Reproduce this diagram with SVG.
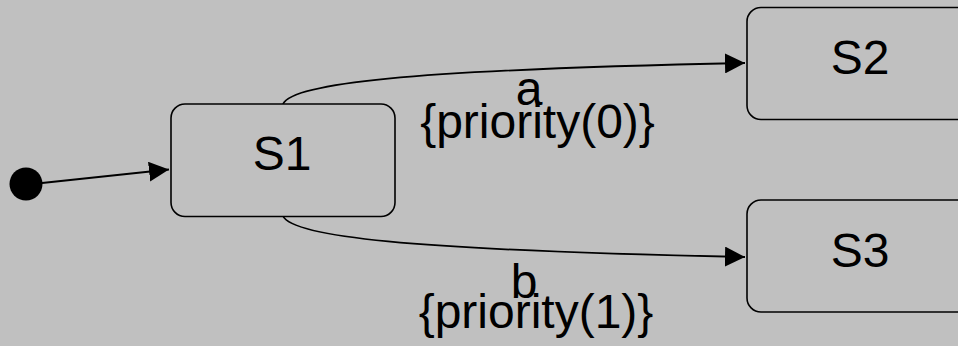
<svg xmlns="http://www.w3.org/2000/svg" width="958" height="346" viewBox="0 0 958 346">
<defs>
<style>
.state{fill:#c0c0c0;stroke:#000;stroke-width:1.6}
.lbl{font-family:"Liberation Sans",Arial,sans-serif;font-size:48px;fill:#000}
.mid{text-anchor:middle}
.edge{fill:none;stroke:#000;stroke-width:1.8}
</style>
<marker id="arr" markerUnits="userSpaceOnUse" markerWidth="22" markerHeight="20" refX="20" refY="10" orient="auto">
<path d="M0,0 L20,10 L0,20 Z" fill="#000"/>
</marker>
</defs>
<rect width="958" height="346" fill="#c0c0c0"/>
<g id="connectors">
<path class="edge" d="M42,183 L169,169.5" marker-end="url(#arr)"/>
<path class="edge" d="M283,104 C292,84 400,70 745,63" marker-end="url(#arr)"/>
<path class="edge" d="M283,216 C292,236 400,250 745,257" marker-end="url(#arr)"/>
<text class="lbl mid" x="529" y="105">a</text>
<text class="lbl mid" x="537.5" y="138">{priority(0)}</text>
<text class="lbl mid" x="524" y="298">b</text>
<text class="lbl mid" x="536" y="328">{priority(1)}</text>
</g>
<g id="init">
<circle cx="26" cy="184" r="16.5" fill="#000"/>
</g>
<g id="S1">
<rect class="state" x="171" y="104" width="224" height="112.5" rx="14"/>
<text class="lbl mid" x="282" y="170">S1</text>
</g>
<g id="S2">
<rect class="state" x="747" y="7.5" width="224" height="112" rx="14"/>
<text class="lbl mid" x="860" y="74">S2</text>
</g>
<g id="S3">
<rect class="state" x="747" y="200" width="224" height="112" rx="14"/>
<text class="lbl mid" x="860" y="267">S3</text>
</g>
</svg>
